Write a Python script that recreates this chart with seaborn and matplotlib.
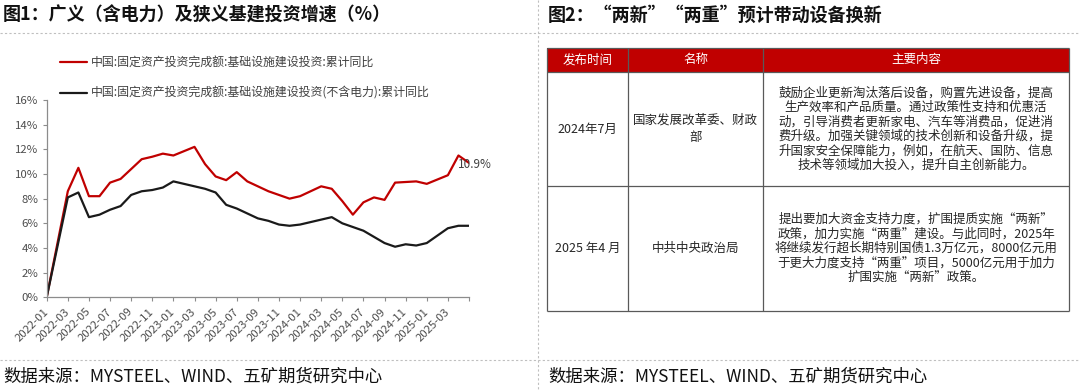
import pandas as pd
import matplotlib
matplotlib.use("Agg")
import matplotlib.pyplot as plt
import seaborn as sns
from matplotlib.patches import Rectangle

# ---- chart data (cumulative y/y, %), one slot per month on the axis ----
months = pd.period_range("2022-01", "2025-05", freq="M").strftime("%Y-%m").tolist()

broad = [0.0, None, 8.6, 10.5, 8.2, 8.2, 9.3, 9.6, 10.4, 11.2, 11.4, 11.65,
         11.5, None, 12.2, 10.8, 9.8, 9.5, 10.15, 9.4, 9.0, 8.6, 8.3, 8.0,
         8.2, None, 9.0, 8.8, 7.8, 6.7, 7.7, 8.1, 7.9, 9.3, 9.35, 9.4,
         9.2, None, 9.9, 11.5, 10.9]
narrow = [0.0, None, 8.1, 8.5, 6.5, 6.7, 7.1, 7.4, 8.3, 8.6, 8.7, 8.9,
          9.4, None, 9.0, 8.8, 8.5, 7.5, 7.2, 6.8, 6.4, 6.2, 5.9, 5.8,
          5.9, None, 6.3, 6.5, 6.0, 5.7, 5.4, 4.9, 4.4, 4.1, 4.3, 4.2,
          4.4, None, 5.6, 5.8, 5.8]

series_names = [
    "中国:固定资产投资完成额:基础设施建设投资:累计同比",
    "中国:固定资产投资完成额:基础设施建设投资(不含电力):累计同比",
]
series_colors = ["#C00000", "#1A1A1A"]
y_ticks = [0, 2, 4, 6, 8, 10, 12, 14, 16]

# ---- table data ----
table_header = ["发布时间", "名称", "主要内容"]
row_dates = ["2024年7月", "2025 年4 月"]
row_names = [["国家发展改革委、财政", "部"], ["中共中央政治局"]]
row_contents = [
    ["鼓励企业更新淘汰落后设备，购置先进设备，提高",
     "生产效率和产品质量。通过政策性支持和优惠活",
     "动，引导消费者更新家电、汽车等消费品，促进消",
     "费升级。加强关键领域的技术创新和设备升级，提",
     "升国家安全保障能力，例如，在航天、国防、信息",
     "技术等领域加大投入，提升自主创新能力。"],
    ["提出要加大资金支持力度，扩围提质实施“两新”",
     "政策，加力实施“两重”建设。与此同时，2025年",
     "将继续发行超长期特别国债1.3万亿元，8000亿元用",
     "于更大力度支持“两重”项目，5000亿元用于加力",
     "扩围实施“两新”政策。"],
]

title_left = "图1：广义（含电力）及狭义基建投资增速（%）"
title_right = "图2：“两新”“两重”预计带动设备换新"
source = "数据来源：MYSTEEL、WIND、五矿期货研究中心"

sns.set_theme(style="white")
plt.rcParams["font.family"] = ["Noto Sans CJK SC", "DejaVu Sans"]

W, H = 1080, 391
fig = plt.figure(figsize=(W / 100, H / 100), dpi=100)

# ---- line chart ----
df = pd.DataFrame({"pos": range(len(months)), "month": months,
                   series_names[0]: broad, series_names[1]: narrow})
long = df.melt(id_vars=["pos", "month"], var_name="series", value_name="value").dropna()
long["value"] = long["value"].astype(float)

ax = fig.add_axes([46.7 / W, 1 - 297.3 / H, (469 - 46.7) / W, (297.3 - 100) / H])
sns.lineplot(data=long, x="pos", y="value", hue="series", hue_order=series_names,
             palette=dict(zip(series_names, series_colors)), estimator=None,
             linewidth=1.6, legend=False, ax=ax)

ax.set_xlim(0, len(months) - 1)
ax.set_ylim(0, 16)
ax.set_yticks(y_ticks)
ax.set_yticklabels([f"{t}%" for t in y_ticks])
xt = list(range(0, len(months), 2))
ax.set_xticks(xt)
ax.set_xticklabels([months[i] if i < len(months) - 1 else "" for i in xt],
                   rotation=45, ha="right", va="center", rotation_mode="anchor")
ax.set_xlabel("")
ax.set_ylabel("")
sns.despine(ax=ax)
for s in ("left", "bottom"):
    ax.spines[s].set_color("#8C8C8C")
    ax.spines[s].set_linewidth(0.9)
ax.tick_params(axis="both", direction="out", length=3, width=0.8, color="#8C8C8C",
               labelsize=8.2, labelcolor="#4D4D4D", pad=3, left=True, bottom=True)
ax.tick_params(axis="x", pad=6)

ax.annotate(f"{broad[-1]:.1f}%", xy=(len(months) - 1, broad[-1]), xytext=(-11, -2),
            textcoords="offset pixels", ha="left", va="center",
            fontsize=8.5, color="#404040")

fig.legend(handles=ax.lines[:2], labels=series_names, loc="upper left",
           bbox_to_anchor=(60 / W, 1 - 56 / H), frameon=False, fontsize=8.6,
           handlelength=2.3, handletextpad=0.3, labelspacing=1.5,
           borderpad=0, borderaxespad=0, labelcolor="#404040")

# ---- overlay for titles, separators and table (pixel coordinates) ----
lay = fig.add_axes([0, 0, 1, 1])
lay.set_xlim(0, W)
lay.set_ylim(H, 0)
lay.axis("off")
lay.patch.set_alpha(0)

dash = dict(color="#BFBFBF", lw=0.8, ls=(0, (2, 2)))
lay.plot([0, W], [33, 33], **dash)
lay.plot([0, W], [360, 360], **dash)
lay.plot([538, 538], [0, H], **dash)

for x0, t in [(3, title_left), (548, title_right)]:
    lay.text(x0, 15, t, fontsize=13, weight="bold", color="#111111", va="center", ha="left")
for x0 in (3, 548):
    lay.text(x0, 377, source, fontsize=12.5, color="#111111", va="center", ha="left")

col_x = [547, 628, 763, 1069]
row_y = [48, 72, 186, 311]
lay.add_patch(Rectangle((col_x[0], row_y[0]), col_x[-1] - col_x[0], row_y[1] - row_y[0],
                        fc="#C00000", ec="none"))
line_kw = dict(color="#595959", lw=0.9, solid_capstyle="butt")
for x in col_x:
    lay.plot([x, x], [row_y[0], row_y[-1]], **line_kw)
for y in row_y:
    lay.plot([col_x[0], col_x[-1]], [y, y], **line_kw)

centers = [(col_x[i] + col_x[i + 1]) / 2 for i in range(3)]
for c, h in zip(centers, table_header):
    lay.text(c, (row_y[0] + row_y[1]) / 2, h, fontsize=9, color="white", ha="center", va="center")


def cell_lines(cx, cy, lines, step):
    n = len(lines)
    for i, s in enumerate(lines):
        lay.text(cx, cy + (i - (n - 1) / 2) * step, s, fontsize=9, color="#262626",
                 ha="center", va="center")


for r in range(2):
    cy = (row_y[r + 1] + row_y[r + 2]) / 2
    cell_lines(centers[0], cy, [row_dates[r]], 14.5)
    cell_lines(centers[1], cy, row_names[r], 17.5)
    cell_lines(centers[2], cy, row_contents[r], 14.5)

fig.savefig("out.png", dpi=100)
